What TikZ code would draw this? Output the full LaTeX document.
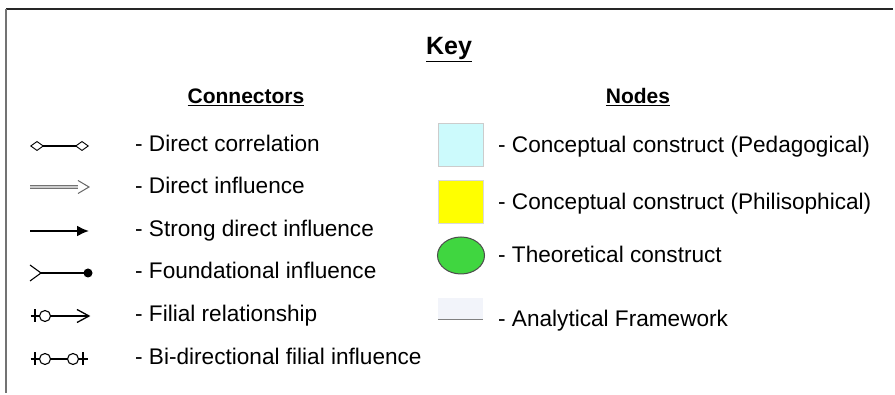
\documentclass[tikz,border=0pt]{standalone}
\usepackage{fontspec}
\setmainfont{Liberation Sans}
\usetikzlibrary{arrows.meta,shapes.geometric,calc}
\definecolor{pedcyan}{RGB}{204,250,252}
\definecolor{phyellow}{RGB}{255,255,0}
\definecolor{theogreen}{RGB}{64,214,64}
\definecolor{anafill}{RGB}{242,244,250}
\begin{document}
\begin{tikzpicture}[x=1pt,y=-1pt,
  lbl/.style={anchor=base west,inner sep=0pt,font=\fontsize{22.6}{26}\selectfont},
  hdr/.style={anchor=base,inner sep=0pt,font=\fontsize{21}{24}\selectfont\bfseries},
  tick/.style={line width=1.4pt,black}]
\useasboundingbox (0,0) rectangle (895,395);
\draw[line width=1.3pt,black!85] (893,9) -- (6,9);
\draw[line width=1.1pt,black!55] (6,9) -- (6,393);
% titles
\node[hdr,font=\fontsize{25}{28}\selectfont\bfseries] (key) at (449,55) {\underline{Key}};
\node[hdr] (conn) at (246,104) {\underline{Connectors}};
\node[hdr] (nodes) at (638,104) {\underline{Nodes}};
% row 1: direct correlation
\coordinate (a1) at (30,146); \coordinate (b1) at (89,146);
\draw[line width=2pt,{Diamond[open,length=14pt,width=10pt,line width=0.9pt]}-{Diamond[open,length=14pt,width=10pt,line width=0.9pt]}] (a1) -- (b1);
\node[lbl] (t1) at (135,152) {- Direct correlation};
% row 2: direct influence
\coordinate (a2) at (30,187); \coordinate (b2) at (78,187); \coordinate (c2) at (89,187);
\draw[gray!90!black,line width=1pt,double=gray!40,double distance=2.8pt] (a2) -- (b2);
\draw[gray!80!black,line width=1pt,fill=white] ($(b2)+(0,-6.5)$) -- (c2) -- ($(b2)+(0,6.5)$);
\node[lbl] (t2) at (135,194) {- Direct influence};
% row 3: strong direct influence
\coordinate (a3) at (30,231); \coordinate (b3) at (89,231);
\draw[line width=2pt,-{Latex[length=12pt,width=11pt]}] (a3) -- (b3);
\node[lbl] (t3) at (135,237) {- Strong direct influence};
% row 4: foundational
\coordinate (a4) at (41,273); \coordinate (b4) at (88,273);
\draw[line width=1.1pt] (30,265) -- (a4) -- (30,281);
\draw[line width=2.4pt] (a4) -- (b4);
\fill (b4) circle (4.5);
\node[lbl] (t4) at (135,279) {- Foundational influence};
% row 5: filial
\coordinate (k5) at (35,316); \coordinate (o5) at (45,316); \coordinate (b5) at (89,316);
\draw[tick] ($(k5)+(0,-6.5)$) -- ($(k5)+(0,6.5)$);
\draw[tick] ($(k5)+(-4.5,0)$) -- ($(o5)+(-5.5,0)$);
\draw[line width=1.1pt] (o5) circle (5.5);
\draw[line width=1.8pt] ($(o5)+(5.5,0)$) -- (b5);
\draw[line width=1.3pt] ($(b5)+(-12,-6.5)$) -- (b5) -- ($(b5)+(-12,6.5)$);
\node[lbl] (t5) at (135,322) {- Filial relationship};
% row 6: bi-directional filial
\coordinate (k6) at (35,359); \coordinate (o6) at (45,359);
\coordinate (p6) at (73,359); \coordinate (q6) at (83,359);
\draw[tick] ($(k6)+(0,-6.5)$) -- ($(k6)+(0,6.5)$);
\draw[tick] ($(k6)+(-4.5,0)$) -- ($(o6)+(-5.5,0)$);
\draw[line width=1.1pt] (o6) circle (5.5);
\draw[line width=1.8pt] ($(o6)+(5.5,0)$) -- ($(p6)+(-5.5,0)$);
\draw[line width=1.1pt] (p6) circle (5.5);
\draw[tick] ($(q6)+(0,-6.5)$) -- ($(q6)+(0,6.5)$);
\draw[tick] ($(p6)+(5.5,0)$) -- ($(q6)+(4.5,0)$);
\node[lbl] (t6) at (135,365) {- Bi-directional filial influence};
% nodes legend
\node[draw=gray!40,fill=pedcyan,minimum width=45pt,minimum height=43pt,inner sep=0pt] (n1) at (460.5,145) {};
\node[lbl] (u1) at (498,153) {- Conceptual construct (Pedagogical)};
\node[draw=gray!30,fill=phyellow,minimum width=45pt,minimum height=43pt,inner sep=0pt] (n2) at (460.5,202) {};
\node[lbl] (u2) at (498,210) {- Conceptual construct (Philisophical)};
\node[ellipse,draw=black!70,line width=1pt,fill=theogreen,minimum width=47pt,minimum height=37pt,inner sep=0pt] (n3) at (461,255.5) {};
\node[lbl] (u3) at (498,263) {- Theoretical construct};
\node[fill=anafill,minimum width=45pt,minimum height=21pt,inner sep=0pt] (n4) at (460.5,308.5) {};
\draw[gray,line width=0.9pt] (n4.south west) -- (n4.south east);
\node[lbl] (u4) at (498,327) {- Analytical Framework};
\end{tikzpicture}
\end{document}
